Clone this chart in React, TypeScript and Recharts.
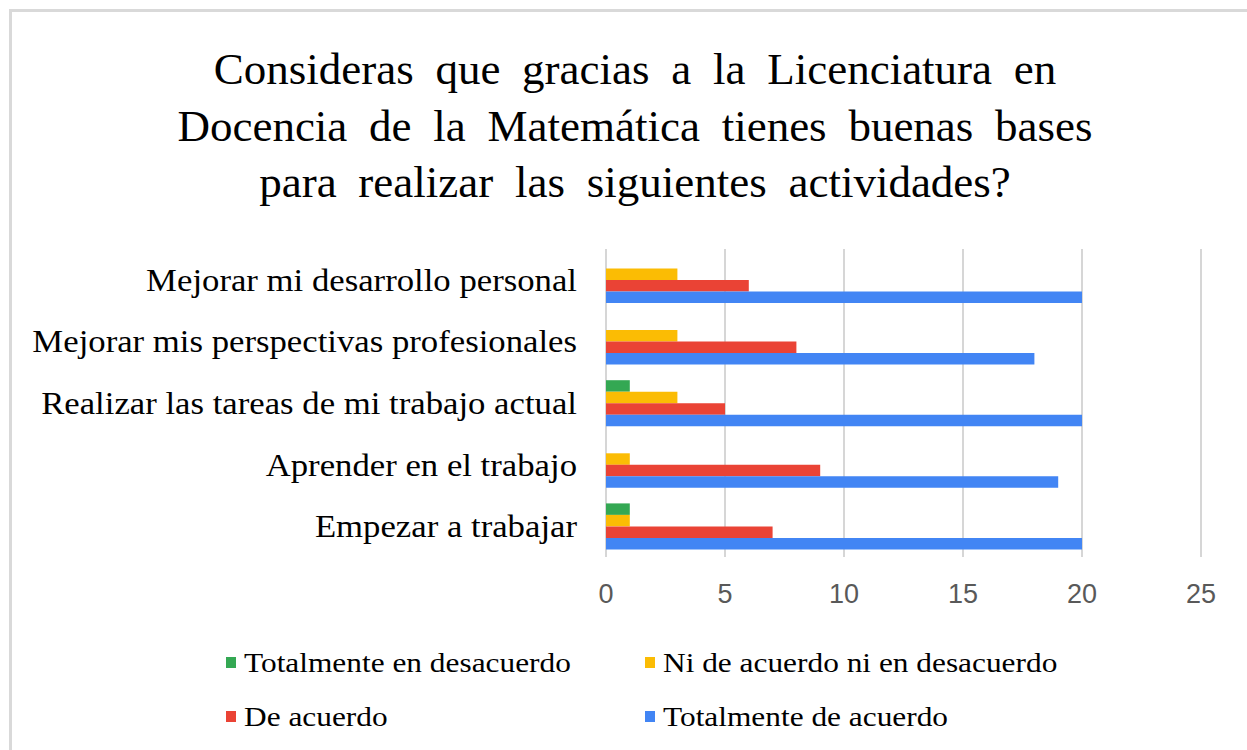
import React from "react";
import { BarChart, Bar, XAxis, YAxis, CartesianGrid, Legend } from "recharts";

const categories = [
  "Mejorar mi desarrollo personal",
  "Mejorar mis perspectivas profesionales",
  "Realizar las tareas de mi trabajo actual",
  "Aprender en el trabajo",
  "Empezar a trabajar",
];
const totalDesacuerdo = [0, 0, 1, 0, 1];
const niNi = [3, 3, 3, 1, 1];
const deAcuerdo = [6, 8, 5, 9, 7];
const totalAcuerdo = [20, 18, 20, 19, 20];
const xTicks = [0, 5, 10, 15, 20, 25];

const seriesNames = [
  "Totalmente en desacuerdo",
  "Ni de acuerdo ni en desacuerdo",
  "De acuerdo",
  "Totalmente de acuerdo",
];
const seriesKeys = ["td", "nn", "da", "ta"];
const seriesColors = ["#34a853", "#fbbc04", "#ea4335", "#4285f4"];

const titleLines = [
  "Consideras que gracias a la Licenciatura en",
  "Docencia de la Matemática tienes buenas bases",
  "para realizar las siguientes actividades?",
];

const data = categories.map((c, i) => ({
  name: c,
  td: totalDesacuerdo[i],
  nn: niNi[i],
  da: deAcuerdo[i],
  ta: totalAcuerdo[i],
}));

const serif = "'Liberation Serif', 'Times New Roman', serif";
const STRETCH = 1.12;

const YTick = (props: any) => {
  const { x, y, payload } = props;
  return (
    <text
      transform={`translate(${x},${y}) scale(${STRETCH},1)`}
      textAnchor="end"
      dy={11}
      fill="#000"
      fontSize={31}
      fontFamily={serif}
    >
      {payload.value}
    </text>
  );
};

const LegendContent = () => (
  <svg width={1247} height={110} style={{ display: "block" }}>
    {seriesNames.map((n, i) => {
      const col = i % 2;
      const row = Math.floor(i / 2);
      const rx = col === 0 ? 226 : 645;
      const ry = row * 54;
      return (
        <g key={n}>
          <rect x={rx} y={ry + 10} width={10} height={11} fill={seriesColors[i]} />
          <text
            transform={`translate(${rx + 18},${ry + 25}) scale(${STRETCH},1)`}
            fill="#000"
            fontSize={28}
            fontFamily={serif}
          >
            {n}
          </text>
        </g>
      );
    })}
  </svg>
);

export default function App() {
  return (
    <div style={{ position: "absolute", left: 0, top: 0, width: 1247, height: 750, overflow: "hidden", background: "#fff" }}>
      <div
        style={{
          position: "absolute",
          left: 9,
          top: 9,
          width: 1400,
          height: 900,
          border: "3px solid #d9d9d9",
          boxSizing: "border-box",
        }}
      />
      <div
        style={{
          position: "absolute",
          left: 0,
          top: 41,
          width: 1270,
          textAlign: "center",
          fontFamily: serif,
          fontSize: 45,
          lineHeight: "56.5px",
          color: "#000",
          wordSpacing: 10.5,
        }}
      >
        {titleLines.map((l) => (
          <div key={l}>{l}</div>
        ))}
      </div>
      <div style={{ position: "absolute", left: 0, top: 0 }}>
        <BarChart
          width={1247}
          height={750}
          data={data}
          layout="vertical"
          margin={{ top: 249, right: 46, bottom: 163, left: 0 }}
          barGap={0}
          barSize={11.5}
        >
          <CartesianGrid horizontal={false} vertical={true} stroke="#d6d6d6" strokeWidth={2} />
          <XAxis
            type="number"
            domain={[0, 25]}
            ticks={xTicks}
            height={30}
            axisLine={false}
            tickLine={false}
            tickSize={0}
            tickMargin={27}
            tick={{ fill: "#595959", fontSize: 27, fontFamily: "'Liberation Sans', Arial, sans-serif" }}
          />
          <YAxis
            type="category"
            dataKey="name"
            width={606}
            axisLine={false}
            tickLine={false}
            tickSize={0}
            tickMargin={29}
            interval={0}
            tick={<YTick />}
          />
          <Legend
            layout="horizontal"
            verticalAlign="middle"
            align="center"
            wrapperStyle={{ position: "absolute", left: 0, top: 647, width: 1247 }}
            content={() => <LegendContent />}
          />
          {seriesKeys.map((k, i) => (
            <Bar key={k} dataKey={k} name={seriesNames[i]} fill={seriesColors[i]} isAnimationActive={false} />
          ))}
        </BarChart>
      </div>
    </div>
  );
}
